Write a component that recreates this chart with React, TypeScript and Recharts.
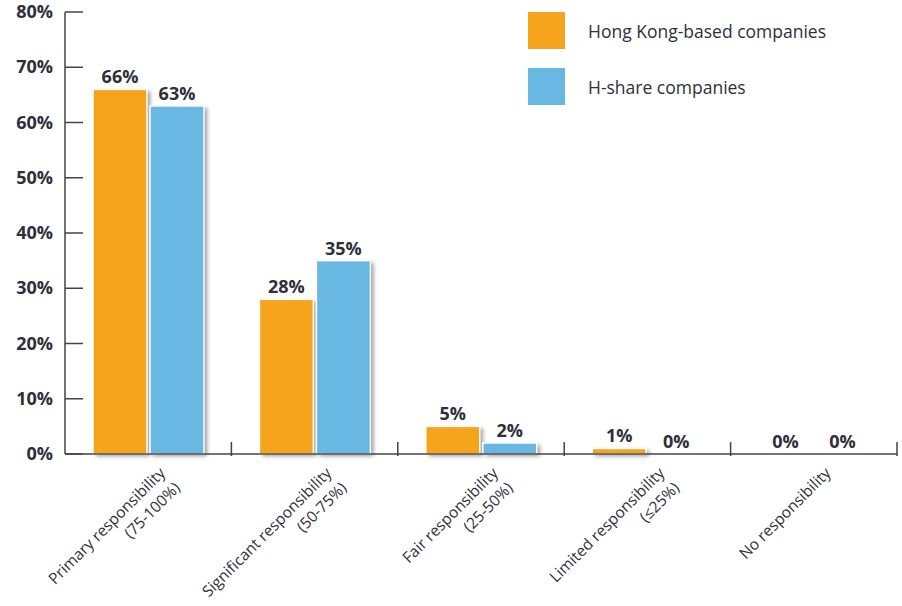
import React from "react";
import { BarChart, Bar, XAxis, YAxis, LabelList } from "recharts";

// categories (two-line labels) and the two series, in percent
const categoryLines: string[][] = [
  ["Primary responsibility", "(75-100%)"],
  ["Significant responsibility", "(50-75%)"],
  ["Fair responsibility", "(25-50%)"],
  ["Limited responsibility", "(≤25%)"],
  ["No responsibility"],
];
const hongKongBased = [66, 28, 5, 1, 0];
const hShare = [63, 35, 2, 0, 0];
const yTicks = [0, 10, 20, 30, 40, 50, 60, 70, 80];

const ORANGE = "#F7A41D";
const BLUE = "#69B7E3";
const INK = "#2f2f3a";
const FONT = "'Open Sans', 'Noto Sans', sans-serif";

const W = 902;
const H = 606;
const PLOT_LEFT = 65;
const PLOT_RIGHT = 5;
const BAND = (W - PLOT_LEFT - PLOT_RIGHT) / categoryLines.length;

const data = categoryLines.map((lines, i) => ({
  name: lines.join(" "),
  hk: hongKongBased[i],
  h: hShare[i],
}));

const ShadowBar = (props: any) => {
  const { x, y, width, height, fill } = props;
  if (!height || height <= 0) return null;
  return (
    <g>
      <rect x={x + 3} y={y + 2} width={width} height={height} fill="#000" opacity={0.4} style={{ filter: "blur(2px)" }} />
      <rect x={x} y={y} width={width} height={height} fill={fill} stroke="#fff" strokeWidth={1.5} />
    </g>
  );
};

const YTick = (props: any) => {
  const { x, y, payload } = props;
  return (
    <g>
      <text x={x} y={y} dy={6} textAnchor="end" fontFamily={FONT} fontWeight={700} fontSize={18} fill={INK}>
        {payload.value}%
      </text>
      <line x1={x + 12} x2={x + 30} y1={y} y2={y} stroke="#444" strokeWidth={1.5} />
    </g>
  );
};

const XTick = (props: any) => {
  const { x, y, index } = props;
  const lines = categoryLines[index] || [];
  const bx = x + BAND / 2;
  return (
    <g>
      <line x1={bx} x2={bx} y1={y} y2={y - 14} stroke="#444" strokeWidth={1.5} />
      <g transform={`translate(${x + 18},${y + 18}) rotate(-45)`}>
        {lines.map((t, i) => (
          <text key={i} x={0} y={i * 21} textAnchor="end" fontFamily={FONT} fontSize={15.5} fill={INK}>
            {t}
          </text>
        ))}
      </g>
    </g>
  );
};

const Legend = () => (
  <div style={{ position: "absolute", left: 528, top: 12, fontFamily: FONT, fontSize: 17.5, color: INK }}>
    {[
      { c: ORANGE, t: "Hong Kong-based companies" },
      { c: BLUE, t: "H-share companies" },
    ].map((e, i) => (
      <div key={i} style={{ display: "flex", alignItems: "center", height: 37, marginBottom: 19 }}>
        <div style={{ width: 37, height: 37, background: e.c, marginRight: 23 }} />
        <span>{e.t}</span>
      </div>
    ))}
  </div>
);

export default function App() {
  return (
    <div style={{ position: "absolute", left: 0, top: 0, width: W, height: H, background: "#fff" }}>
      <BarChart
        width={W}
        height={H}
        data={data}
        margin={{ top: 12, right: PLOT_RIGHT, bottom: 0, left: 0 }}
        barGap={3}
        barSize={54}
      >
        <YAxis
          width={PLOT_LEFT}
          domain={[0, 80]}
          ticks={yTicks}
          interval={0}
          tickLine={false}
          tickSize={0}
          tickMargin={12}
          axisLine={{ stroke: "#444", strokeWidth: 1.5 }}
          tick={<YTick />}
        />
        <XAxis
          dataKey="name"
          height={152}
          interval={0}
          tickLine={false}
          tickSize={0}
          axisLine={{ stroke: "#444", strokeWidth: 1.5 }}
          tick={<XTick />}
        />
        <Bar dataKey="hk" fill={ORANGE} shape={<ShadowBar />} isAnimationActive={false}>
          <LabelList dataKey="hk" position="top" offset={6} formatter={(v: any) => `${v}%`}
            style={{ fontFamily: FONT, fontWeight: 700, fontSize: 18, fill: INK }} />
        </Bar>
        <Bar dataKey="h" fill={BLUE} shape={<ShadowBar />} isAnimationActive={false}>
          <LabelList dataKey="h" position="top" offset={6} formatter={(v: any) => `${v}%`}
            style={{ fontFamily: FONT, fontWeight: 700, fontSize: 18, fill: INK }} />
        </Bar>
      </BarChart>
      <Legend />
    </div>
  );
}
